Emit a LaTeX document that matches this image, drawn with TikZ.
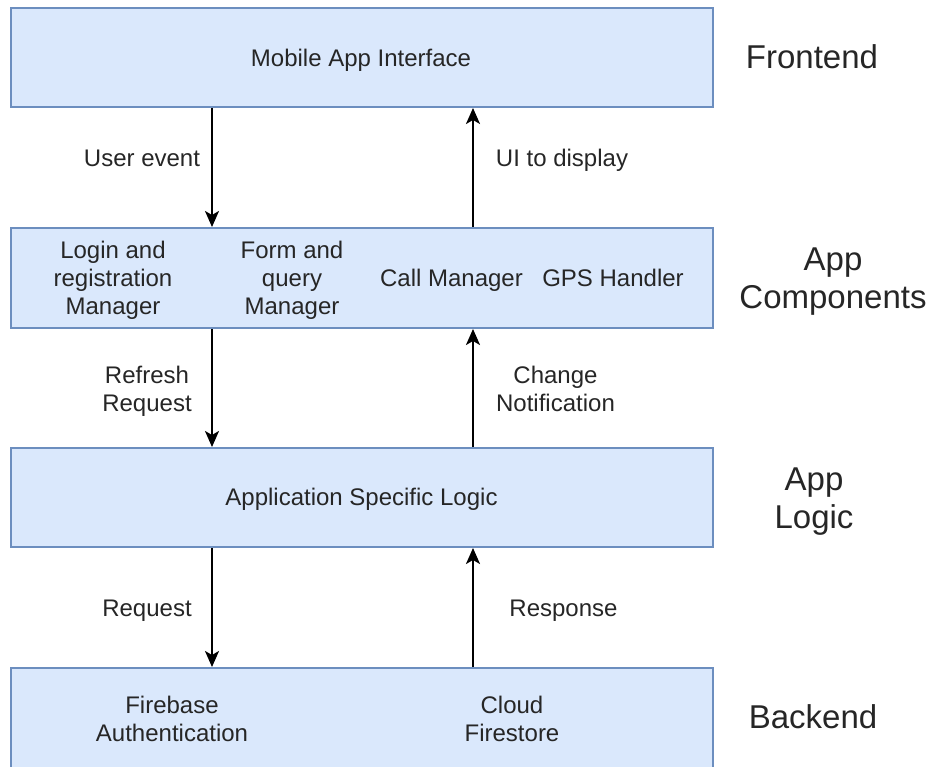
\documentclass[tikz,border=0pt]{standalone}
\usepackage{fontspec}
\setmainfont{Liberation Sans}
\usetikzlibrary{arrows.meta}
\definecolor{boxfill}{HTML}{DAE8FC}
\definecolor{boxline}{HTML}{6C8EBF}
\definecolor{ink}{HTML}{262626}
\tikzset{
  layer/.style={draw=boxline, fill=boxfill, line width=2pt, minimum width=702pt, inner sep=0pt},
  small/.style={text=ink, align=center, font=\fontsize{24}{28}\selectfont, inner sep=0pt},
  big/.style={text=ink, align=center, font=\fontsize{33}{38}\selectfont, inner sep=0pt},
  oneline/.style={text height=17.2pt, text depth=0pt},
  flow/.style={draw=black, line width=2pt, -{Stealth[length=16pt, width=14pt, inset=4pt]}}
}
\begin{document}
\begin{tikzpicture}[x=1pt, y=-1pt]
\useasboundingbox (0,0) rectangle (934,767);

% layer boxes
\node[layer, minimum height=99pt] (front) at (362,57.5) {};
\node[layer, minimum height=100pt] (comp) at (362,278) {};
\node[layer, minimum height=99pt] (logic) at (362,497.5) {};
\node[layer, minimum height=106pt] (back) at (362,721) {};

% box contents
\node[small, oneline] (mobile) at (361,58) {Mobile App Interface};
\node[small] (login) at (113,280) {Login and\\registration\\Manager};
\node[small] (form) at (292,280) {Form and\\query\\Manager};
\node[small, oneline] (call) at (451.5,278) {Call Manager};
\node[small, oneline] (gps) at (613,278) {GPS Handler};
\node[small, oneline] (asl) at (361.5,497) {Application Specific Logic};
\node[small] (fb) at (172,719) {Firebase\\Authentication};
\node[small] (cf) at (512,719) {Cloud\\Firestore};

% layer names
\node[big] (lfront) at (812,57) {Frontend};
\node[big] (lcomp) at (833,281.5) {App\\Components};
\node[big] (llogic) at (814,502) {App\\Logic};
\node[big] (lback) at (813,717) {Backend};

% connector columns
\coordinate (L) at (212,0);
\coordinate (R) at (473,0);

\draw[flow] (front.south -| L) -- (comp.north -| L);
\draw[flow] (comp.north -| R) -- (front.south -| R);
\draw[flow] (comp.south -| L) -- (logic.north -| L);
\draw[flow] (logic.north -| R) -- (comp.south -| R);
\draw[flow] (logic.south -| L) -- (back.north -| L);
\draw[flow] (back.north -| R) -- (logic.south -| R);

% connector labels
\node[small, oneline] (ue) at (142,158) {User event};
\node[small, oneline] (ui) at (562,158) {UI to display};
\node[small] (rr) at (147,391) {Refresh\\Request};
\node[small] (cn) at (555.5,389) {Change\\Notification};
\node[small, oneline] (rq) at (147,608) {Request};
\node[small, oneline] (rs) at (563.5,608) {Response};
\end{tikzpicture}
\end{document}
